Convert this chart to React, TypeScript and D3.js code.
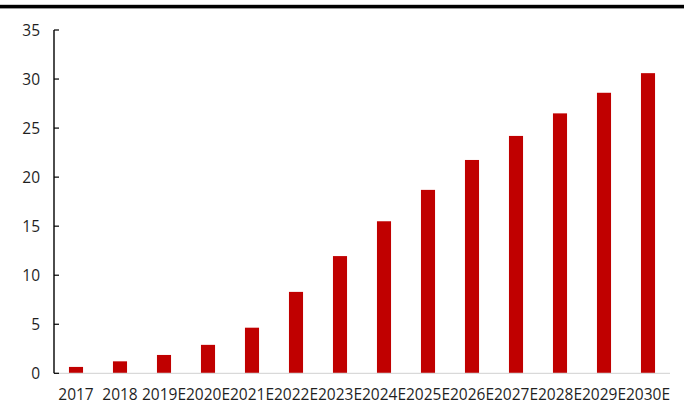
import React from "react";
import * as d3 from "d3";

const categories = ["2017", "2018", "2019E", "2020E", "2021E", "2022E", "2023E", "2024E", "2025E", "2026E", "2027E", "2028E", "2029E", "2030E"];
const values = [0.65, 1.22, 1.87, 2.9, 4.65, 8.3, 11.95, 15.5, 18.7, 21.75, 24.2, 26.5, 28.6, 30.6];
const yTicks = [0, 5, 10, 15, 20, 25, 30, 35];

const W = 684;
const H = 404;
const left = 54;
const right = 670;
const top = 30;
const bottom = 373.3;

export default function App() {
  const x = d3.scaleBand<string>().domain(categories).range([left, right]).paddingInner(0.68).paddingOuter(0.34);
  const y = d3.scaleLinear().domain([0, 35]).range([bottom, top]);
  const font = "'Open Sans', 'Liberation Sans', Arial, sans-serif";
  return (
    <svg width={W} height={H} style={{ position: "absolute", left: 0, top: 0, display: "block" }}>
      <rect x={0} y={0} width={W} height={H} fill="#fff" />
      <rect x={0} y={4.8} width={W} height={3.6} fill="#000" />
      {categories.map((c, i) => (
        <rect key={c} x={x(c)} y={y(values[i])} width={x.bandwidth()} height={bottom - y(values[i])} fill="#C00000" />
      ))}
      <line x1={left} x2={right} y1={bottom} y2={bottom} stroke="#d9d9d9" strokeWidth={1.2} />
      <line x1={left} x2={left} y1={top} y2={bottom} stroke="#000" strokeWidth={1.4} />
      {yTicks.map((t) => (
        <g key={t}>
          <line x1={left} x2={left + 5} y1={y(t)} y2={y(t)} stroke="#000" strokeWidth={1.2} />
          <text x={40} y={y(t)} dy="0.36em" textAnchor="end" fontFamily={font} fontSize={15.5} fill="#1f1f1f">
            {t}
          </text>
        </g>
      ))}
      {categories.map((c) => (
        <text key={c} x={(x(c) as number) + x.bandwidth() / 2} y={400} textAnchor="middle" fontFamily={font} fontSize={15.5} fill="#1f1f1f">
          {c}
        </text>
      ))}
    </svg>
  );
}
